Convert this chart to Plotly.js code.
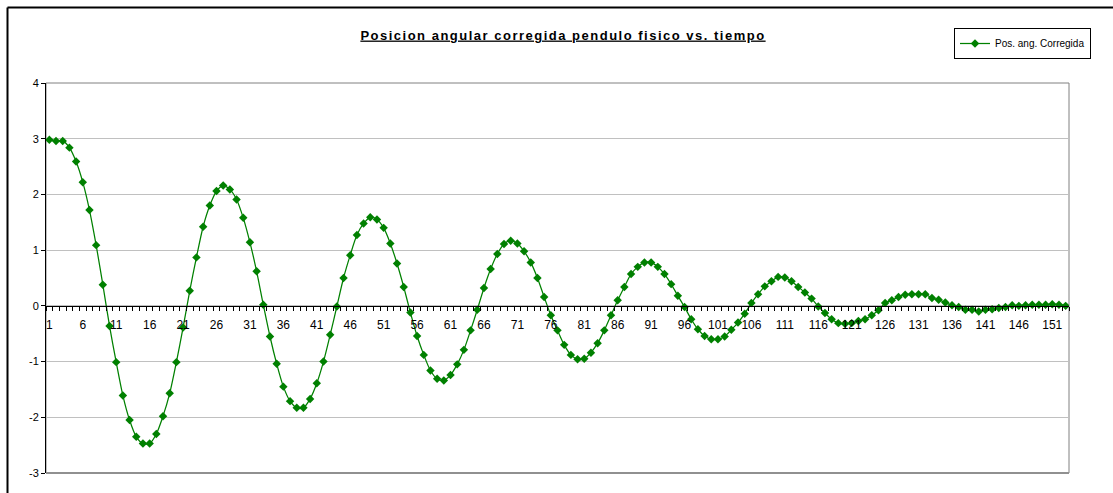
<!DOCTYPE html>
<html>
<head>
<meta charset="utf-8">
<script src="https://cdn.plot.ly/plotly-3.0.1.min.js"></script>
<style>
  html, body { margin: 0; padding: 0; background: #fff; }
  #chart { width: 1113px; height: 493px; }
</style>
</head>
<body>
<div id="chart"></div>
<script>
const chartTitle = 'Posicion angular corregida pendulo fisico vs. tiempo';
const seriesName = 'Pos. ang. Corregida';

const posAngCorregida = [
  2.98, 2.96, 2.96, 2.84, 2.59, 2.22, 1.72, 1.09, 0.38, -0.36,
  -1.01, -1.61, -2.05, -2.35, -2.47, -2.47, -2.30, -1.98, -1.57, -1.01,
  -0.39, 0.27, 0.87, 1.42, 1.80, 2.06, 2.16, 2.09, 1.91, 1.58,
  1.14, 0.62, 0.02, -0.55, -1.04, -1.45, -1.71, -1.83, -1.83, -1.67,
  -1.39, -1.00, -0.52, -0.01, 0.50, 0.91, 1.27, 1.48, 1.59, 1.55,
  1.40, 1.12, 0.76, 0.34, -0.12, -0.54, -0.88, -1.16, -1.31, -1.34,
  -1.24, -1.05, -0.79, -0.44, -0.07, 0.32, 0.66, 0.93, 1.11, 1.17,
  1.12, 0.98, 0.78, 0.50, 0.16, -0.17, -0.44, -0.70, -0.88, -0.96,
  -0.95, -0.84, -0.67, -0.44, -0.17, 0.10, 0.34, 0.57, 0.70, 0.78,
  0.78, 0.70, 0.57, 0.39, 0.18, -0.02, -0.24, -0.42, -0.54, -0.60,
  -0.60, -0.55, -0.43, -0.30, -0.14, 0.05, 0.21, 0.35, 0.44, 0.52,
  0.51, 0.44, 0.34, 0.24, 0.13, -0.01, -0.13, -0.24, -0.31, -0.32,
  -0.31, -0.27, -0.24, -0.17, -0.08, 0.05, 0.10, 0.16, 0.20, 0.21,
  0.21, 0.21, 0.14, 0.11, 0.06, 0.01, -0.02, -0.07, -0.07, -0.10,
  -0.07, -0.06, -0.04, -0.02, 0.01, 0.00, 0.01, 0.02, 0.02, 0.02,
  0.03, 0.02, 0.00
];

const categories = posAngCorregida.map((_, i) => i + 1);
const xTickVals = categories.filter(c => (c - 1) % 5 === 0);
const xTickText = xTickVals.map(String);
const yTickVals = [-3, -2, -1, 0, 1, 2, 3, 4];

const font = 'Arial, "Liberation Sans", sans-serif';
const green = '#008000';

const trace = {
  x: categories,
  y: posAngCorregida,
  type: 'scatter',
  mode: 'lines+markers',
  name: seriesName,
  line: { color: green, width: 1.25, shape: 'spline', smoothing: 0.8 },
  marker: { symbol: 'diamond', size: 6.5, color: green }
};

// plot area: left 46, right 1069, top 83, bottom 473
const L = 46, R = 1069, T = 83, B = 473;
const W = 1113, H = 493;
const px = x => (x - L) / (R - L);
const py = y => (B - y) / (B - T);

const layout = {
  width: W,
  height: H,
  margin: { l: L, r: W - R, t: T, b: H - B, pad: 0 },
  paper_bgcolor: '#ffffff',
  plot_bgcolor: '#ffffff',
  font: { family: font, color: '#000000', size: 11 },
  showlegend: true,
  title: {
    text: '<span style="letter-spacing:1.5px"><b><u>' + chartTitle + '</u></b></span>',
    font: { family: font, size: 13, color: '#000000' },
    xref: 'container', yref: 'container',
    x: 563 / W, y: 1 - 35 / H,
    xanchor: 'center', yanchor: 'middle'
  },
  legend: {
    x: px(954), y: py(43.5),
    xanchor: 'left', yanchor: 'middle',
    bordercolor: '#000000', borderwidth: 1,
    bgcolor: '#ffffff',
    font: { family: font, size: 10, color: '#000000' },
    itemwidth: 30,
    tracegroupgap: 0
  },
  xaxis: {
    range: [0.5, categories.length + 0.5],
    anchor: 'free',
    position: 3 / 7,
    showline: true,
    linecolor: '#000000',
    linewidth: 1,
    showgrid: false,
    zeroline: false,
    tickmode: 'array',
    tickvals: xTickVals,
    ticktext: xTickText,
    ticks: '',
    ticklabelstandoff: 8,
    tickfont: { family: font, size: 12, color: '#000000' },
    minor: {
      tickmode: 'linear',
      tick0: 0.5,
      dtick: 1,
      ticks: 'outside',
      ticklen: 4,
      tickcolor: '#000000',
      tickwidth: 1,
      showgrid: false
    }
  },
  yaxis: {
    range: [-3, 4],
    domain: [0, 1],
    tickmode: 'array',
    tickvals: yTickVals,
    ticktext: yTickVals.map(String),
    showline: true,
    linecolor: '#000000',
    linewidth: 1,
    ticks: 'outside',
    ticklen: 4,
    tickcolor: '#000000',
    showgrid: true,
    gridcolor: '#c0c0c0',
    gridwidth: 1,
    zeroline: false,
    tickfont: { family: font, size: 11, color: '#000000' }
  },
  shapes: [
    { type: 'rect', xref: 'paper', yref: 'paper', x0: 0, x1: 1, y0: 0, y1: 1,
      line: { color: '#808080', width: 1 }, layer: 'below' },
    { type: 'line', xref: 'paper', yref: 'paper', x0: 0, x1: 1, y0: 0, y1: 0,
      line: { color: '#909090', width: 2 }, layer: 'below' },
    { type: 'line', xref: 'paper', yref: 'paper',
      x0: px(7.5), x1: px(7.5), y0: py(H + 5), y1: py(7.5),
      line: { color: '#000000', width: 2 } },
    { type: 'line', xref: 'paper', yref: 'paper',
      x0: px(7.5), x1: px(W + 5), y0: py(7.5), y1: py(7.5),
      line: { color: '#000000', width: 2 } }
  ]
};

Plotly.newPlot('chart', [trace], layout, { displayModeBar: false, responsive: false });
</script>
</body>
</html>
